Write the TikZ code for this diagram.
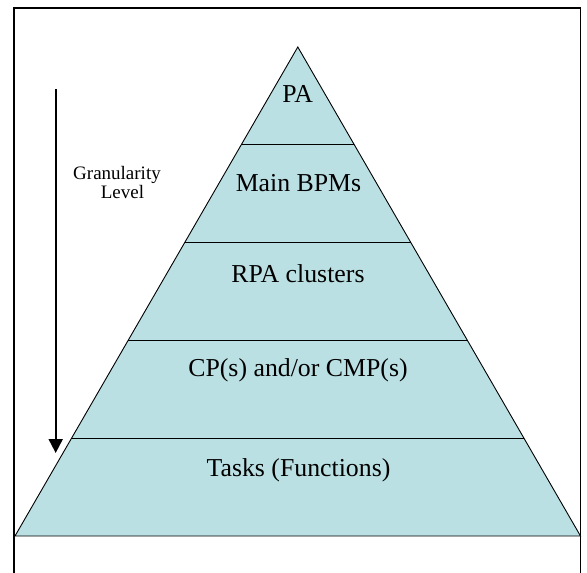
\documentclass[tikz,border=0pt]{standalone}
\usepackage{fontspec}
\setmainfont{Liberation Serif}
\usetikzlibrary{arrows.meta,calc}
\definecolor{bandfill}{RGB}{187,224,227}
\begin{document}
\begin{tikzpicture}[x=1pt,y=-1pt,
  frame/.style={line width=1.5pt},
  pyr/.style={fill=bandfill,draw=black,line width=0.9pt,line join=miter},
  sep/.style={draw=black,line width=1.1pt},
  band/.style={anchor=base,inner sep=0pt,font=\fontsize{25.8}{30}\selectfont},
  gran/.style={anchor=base,inner sep=0pt,align=center,font=\fontsize{19}{18.4}\selectfont},
  levelarrow/.style={line width=2pt,-{Triangle[width=14pt,length=14pt]}}]
\useasboundingbox (0,0) rectangle (587,573);
\fill[white] (0,0) rectangle (587,573);
% frame (bottom edge lies outside the picture)
\draw[frame] (14,573) -- (14,8) -- (580.5,8) -- (580.5,573);
% pyramid
\coordinate (apex) at (297.8,47);
\coordinate (bl) at (15,536);
\coordinate (br) at (580.5,536);
\draw[pyr] (apex) -- (br) -- (bl) -- cycle;
\foreach \y/\n in {144.8/a,242.6/b,340.4/c,438.2/d}{
  \coordinate (L\n) at ($(bl)!{(536-\y)/489}!(apex)$);
  \coordinate (R\n) at ($(br)!{(536-\y)/489}!(apex)$);
}
\draw[sep] (La) -- (Ra);
\draw[sep] (Lb) -- (Rb);
\draw[sep] (Lc) -- (Rc);
\draw[sep] (Ld) -- (Rd);
% labels
\node[band] (pa) at (297.8,102.7) {PA};
\node[band] (bpm) at (298.5,191.7) {Main BPMs};
\node[band] (rpa) at (298,282.3) {RPA clusters};
\node[band] (cp) at (298,376) {CP(s) and/or CMP(s)};
\node[band] (tasks) at (298.5,476) {Tasks (Functions)};
% granularity arrow
\coordinate (arrtop) at (55.7,89);
\coordinate (arrtip) at (55.7,453);
\draw[levelarrow] (arrtop) -- (arrtip);
\node[gran] (granlabel) at (117,198.3) {Granularity\\\hspace*{11pt}Level};
\end{tikzpicture}
\end{document}
